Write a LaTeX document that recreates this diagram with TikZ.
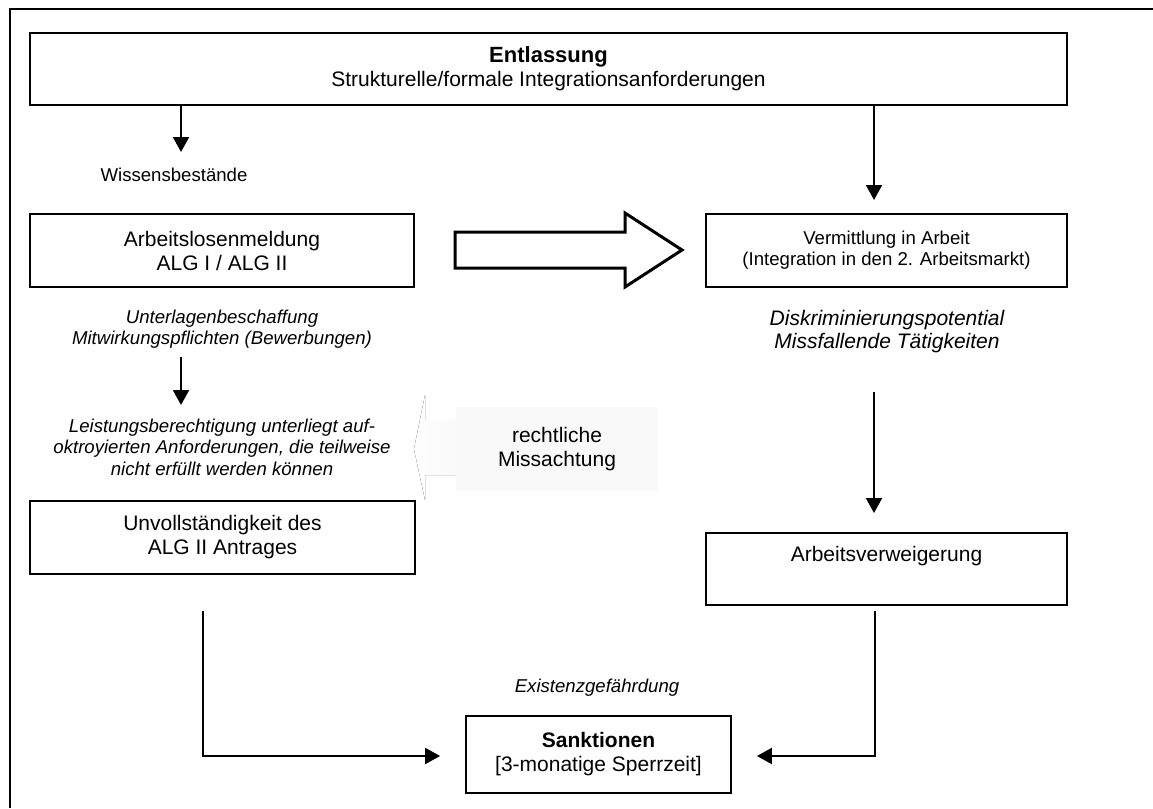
\documentclass[tikz,border=0pt]{standalone}
\usepackage{fontspec}
\setmainfont{Liberation Sans}
\usetikzlibrary{arrows.meta,calc}

\newcommand\txtbig{\fontsize{21}{24}\selectfont}
\newcommand\txtsmall{\fontsize{18.6}{21.5}\selectfont}

\tikzset{
  frameline/.style={line width=2.2pt},
  box/.style={draw, line width=1.8pt, rectangle, inner sep=0pt, align=center, font=\txtbig},
  topbox/.style={box, line width=2.6pt},
  note/.style={inner sep=0pt, align=center, font=\txtsmall},
  conn/.style={line width=2pt, -{Triangle[length=15pt,width=16pt]}},
  blockarrow/.style={draw, line width=3pt, fill=white, line join=miter},
}

\begin{document}
\begin{tikzpicture}[x=1pt,y=-1pt]
\useasboundingbox (0,0) rectangle (1153,808);

% open frame: only the top and left edges
\draw[frameline] (10,808) -- (10,9) -- (1153,9);

% boxes
\node[topbox, minimum width=1037pt, minimum height=72pt] (entl) at (548.5,69)
  {{\fontsize{22}{30}\selectfont\bfseries Entlassung}\\Strukturelle/formale Integrationsanforderungen};
\node[box, minimum width=384pt, minimum height=73pt] (alg) at (222,250.5)
  {Arbeitslosenmeldung\\ALG I / ALG II};
\node[box, minimum width=361pt, minimum height=73pt, font=\fontsize{18.6}{21}\selectfont] (verm) at (886.5,250.5)
  {Vermittlung in Arbeit\\(Integration in den 2. Arbeitsmarkt)};
\node[box, minimum width=385pt, minimum height=73pt] (unv) at (222.5,537.5)
  {Unvollständigkeit des\\ALG II Antrages};
\node[box, minimum width=361pt, minimum height=72pt] (verw) at (886.5,569)
  {Arbeitsverweigerung\\\strut};
\node[box, minimum width=265pt, minimum height=77pt] (sank) at (598.5,754.5)
  {\bfseries Sanktionen\\{}[3-monatige Sperrzeit]};

% free texts
\node[note] (wiss) at (174,175) {Wissensbestände};
\node[note, font=\txtsmall\itshape] (unterl) at (222,329)
  {Unterlagenbeschaffung\\Mitwirkungspflichten (Bewerbungen)};
\node[note, font=\txtsmall\itshape] (leist) at (222,447)
  {Leistungsberechtigung unterliegt auf-\\oktroyierten Anforderungen, die teilweise\\nicht erfüllt werden können};
\node[note, font=\fontsize{21}{23}\selectfont\itshape] (diskr) at (887,331.5)
  {Diskriminierungspotential\\Missfallende Tätigkeiten};
\node[note, font=\txtsmall\itshape] (exist) at (597,688) {Existenzgefährdung};

% hollow block arrow between the upper boxes
\draw[blockarrow] (455,232) -- (625,232) -- (625,213) -- (682,250)
  -- (625,287) -- (625,268) -- (455,268) -- cycle;

% grey callout pointing left
\fill[left color=gray!1, right color=gray!4] (456,420) -- (425,420) -- (425,395)
  -- (414,449) -- (425,500) -- (425,475) -- (456,475) -- cycle;
\fill[gray!5] (456,407) rectangle (658,491);
\node[inner sep=0pt, align=center, font=\txtbig] (recht) at (557,449)
  {rechtliche\\Missachtung};

% connectors
\coordinate (a1e) at (181,152);
\coordinate (a2e) at (874,200);
\coordinate (a3s) at (181,357);
\coordinate (a3e) at (181,405);
\coordinate (a4s) at (874,392);
\coordinate (a4e) at (874,513);
\coordinate (c1s) at (203,611);
\coordinate (c1k) at (203,756);
\coordinate (c2s) at (875,611);
\coordinate (c2k) at (875,756);

\draw[conn] (entl.south -| a1e) -- (a1e);
\draw[conn] (entl.south -| a2e) -- (a2e);
\draw[conn] (a3s) -- (a3e);
\draw[conn] (a4s) -- (a4e);
\draw[conn, line join=miter, shorten >=25pt] (c1s) -- (c1k) -- (c1k -| sank.west);
\draw[conn, line join=miter, shorten >=25pt] (c2s) -- (c2k) -- (c2k -| sank.east);
\end{tikzpicture}
\end{document}
